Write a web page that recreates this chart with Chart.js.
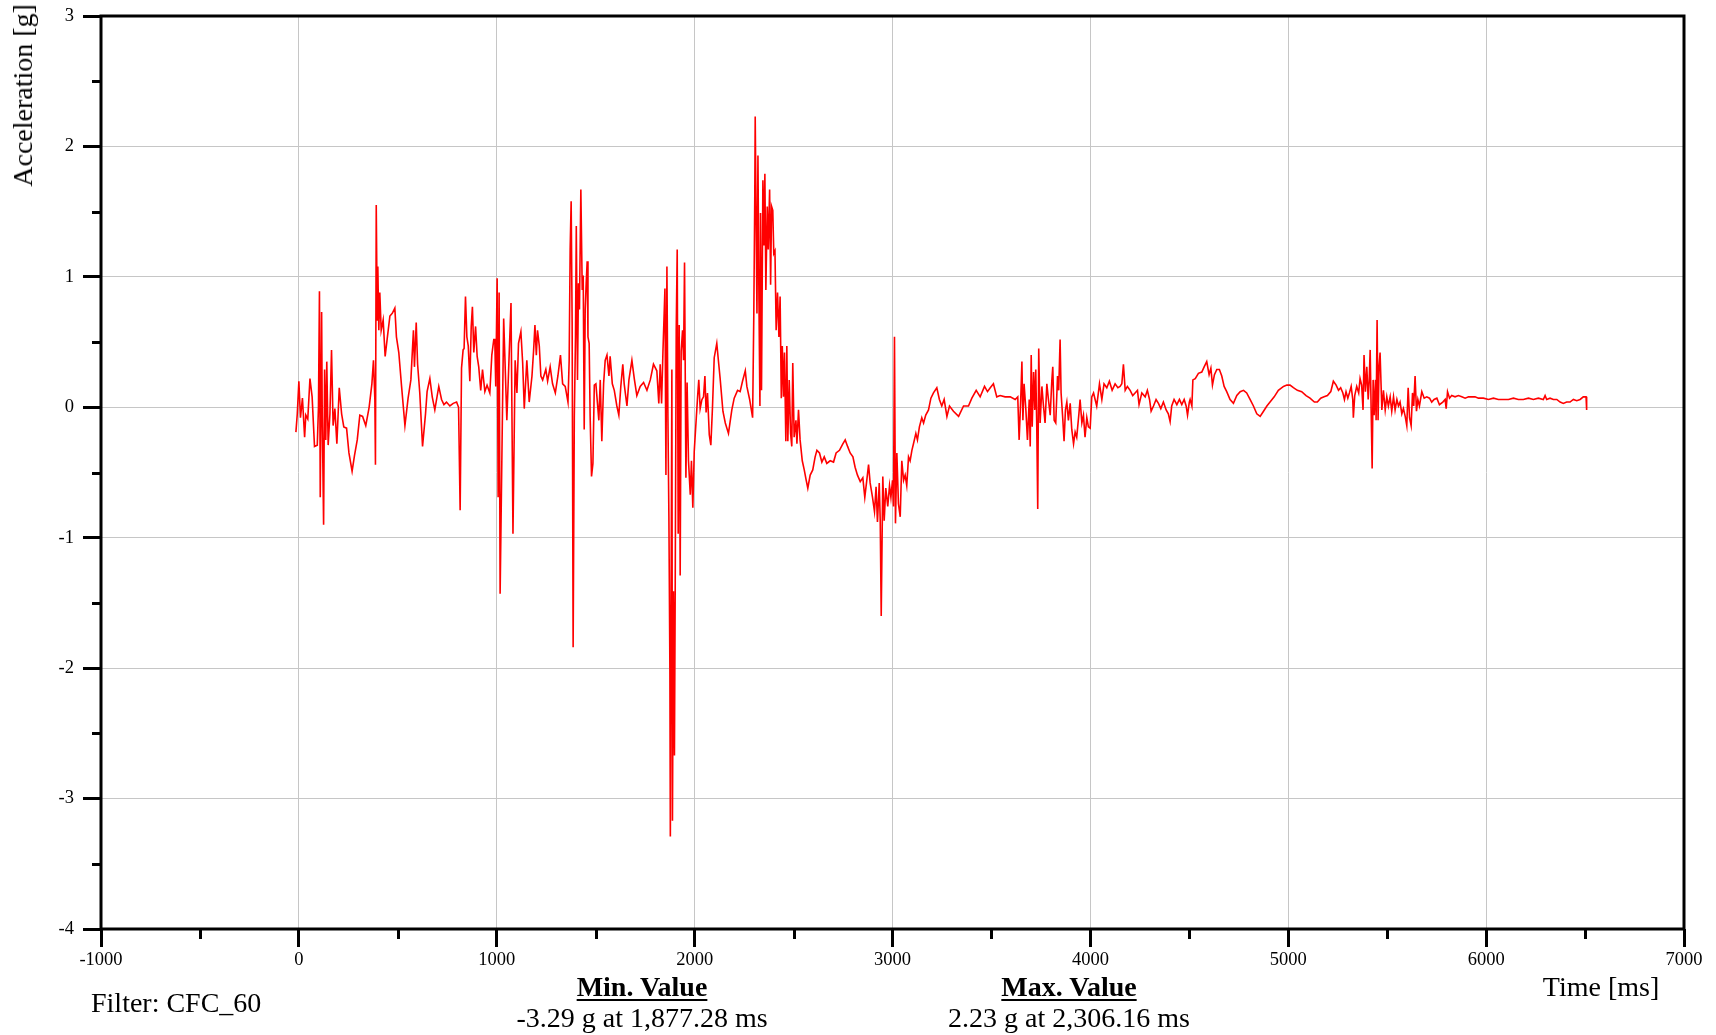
<!DOCTYPE html>
<html>
<head>
<meta charset="utf-8">
<script src="https://cdn.jsdelivr.net/npm/chart.js@4/dist/chart.umd.min.js"></script>
<style>
  html, body { margin: 0; padding: 0; background: #fff; width: 1716px; height: 1035px; overflow: hidden; }
  #wrap { position: relative; width: 1716px; height: 1035px; }
  #c { position: absolute; left: 0; top: 0; }
  .t { position: absolute; font-family: "Liberation Serif", "Times New Roman", serif; font-size: 28px; color: #000; white-space: nowrap; line-height: 1; }
  .ctr { transform: translateX(-50%); }
  .hd { font-weight: bold; text-decoration: underline; text-decoration-thickness: 2px; text-underline-offset: 3px; }
  #ylab { left: 0; top: 0; transform-origin: 0 0; transform: translate(9px, 4px) rotate(-90deg) translateX(-100%); }
</style>
</head>
<body>
<div id="wrap">
  <canvas id="c" width="1716" height="1035" style="width:1716px;height:1035px"></canvas>
  <div class="t" id="ylab"></div>
  <div class="t" id="filter" style="left:91px; top:989px;"></div>
  <div class="t ctr hd" id="minHead" style="left:642px; top:973px;"></div>
  <div class="t ctr" id="minText" style="left:642px; top:1004px;"></div>
  <div class="t ctr hd" id="maxHead" style="left:1069px; top:973px;"></div>
  <div class="t ctr" id="maxText" style="left:1069px; top:1004px;"></div>
  <div class="t ctr" id="xlab" style="left:1601px; top:973px;"></div>
</div>
<script>
// ---- texts ----
const yAxisTitle = 'Acceleration [g]';
const xAxisTitle = 'Time [ms]';
const filterText = 'Filter: CFC_60';
const minTitle = 'Min. Value';
const minText = '-3.29 g at 1,877.28 ms';
const maxTitle = 'Max. Value';
const maxText = '2.23 g at 2,306.16 ms';

// ---- tick labels ----
const xTickValues = [-1000, 0, 1000, 2000, 3000, 4000, 5000, 6000, 7000];
const xTickLabels = ['-1000', '0', '1000', '2000', '3000', '4000', '5000', '6000', '7000'];
const yTickValues = [-4, -3, -2, -1, 0, 1, 2, 3];
const yTickLabels = ['-4', '-3', '-2', '-1', '0', '1', '2', '3'];
const xMinorTicks = [-500, 500, 1500, 2500, 3500, 4500, 5500, 6500];
const yMinorTicks = [-3.5, -2.5, -1.5, -0.5, 0.5, 1.5, 2.5];

// ---- series: time [ms] ----
const timeMs = [
  -15,-8,0,8,18,29,35,45,56,67,79,93,99,104,108,115,118,125,130,136,
  141,148,157,165,173,182,192,204,216,227,241,253,269,281,295,308,322,338,355,369,
  377,384,387,391,396,399,404,409,416,426,436,446,460,472,485,493,505,519,536,552,
  566,579,584,593,600,611,625,640,648,662,674,687,707,721,733,746,763,780,797,807,
  815,822,830,835,842,849,856,864,871,877,884,893,901,909,919,928,940,951,965,975,
  985,990,995,1002,1007,1012,1017,
  1035,1051,1072,1082,1093,1102,1110,1122,1131,1139,1152,1164,1178,1186,1193,1200,1206,1215,1223,1232,
  1248,1257,1270,1282,1296,1309,1322,1333,1346,1360,1366,1371,1376,1381,1386,1392,1398,1402,1408,1413,
  1418,1425,1432,1437,1442,1447,1452,1457,1461,1467,1472,1479,1486,1493,1501,1509,1516,1523,1531,1540,
  1548,1557,1567,1573,1584,1594,1607,1617,1627,1637,1644,1658,1668,1683,1695,1708,
  1725,1742,1759,1776,1792,1809,1819,1826,1833,1840,1850,1855,1860,1865,1870,1875,1877.28,1885,1888,1893,
  1898,1902,1907,1912,1917,1922,1927,1932,1939,1944,1949,1956,1962,1969,1978,1984,1991,1998,2006,2015,
  2021,2028,2037,2045,2052,2058,2065,2074,2082,2090,2099,2112,2122,
  2129,2143,2155,2171,2188,2200,2217,2230,2242,2256,2264,2278,2293,2299,2304,2306.16,2315,2320,2325,2330,
  2333,2338,2345,2350,2355,2360,2367,2372,2379,2384,2389,2395,2400,2406,2412,2419,2426,2432,2438,2443,
  2449,2454,2461,2466,2471,2478,2485,2491,2496,2503,2512,2517,2525,2533,2544,2554,2564,2572,2584,2597,
  2609,2618,2631,2643,2655,2668,2685,2702,2715,2732,2749,2761,2773,2786,2800,2811,2823,2837,2850,2860,
  2870,2879,2887,2899,2909,2917,2924,2933,2938,2943,2951,2958,2966,2976,2985,2992,3000,
  3005,3010,3015,3022,3030,3039,3047,3056,3064,3072,3081,3089,3098,3106,3118,3126,3136,3148,3157,3168,
  3182,3194,3207,3224,3237,3249,3261,3275,3288,
  3308,3334,3359,3384,3401,3423,3443,3465,3480,3494,3510,3527,3544,3569,3595,3620,3633,3640,3648,3654,
  3659,3665,3674,3682,3691,3696,3701,3706,3713,3719,3724,3729,3734,3739,3746,3755,3763,3771,3780,3788,
  3797,3805,3810,3817,3825,3834,3840,3847,3852,3861,3867,3874,3881,3889,3898,3906,3915,3923,3931,3942,
  3948,3957,3965,3973,3982,3990,3999,4007,4016,4024,4032,4046,4058,4069,4083,4096,4110,4125,4139,4150,
  4159,4167,4176,4187,4201,4214,4226,4238,4246,4260,4277,4288,4299,4307,4319,4332,4344,4356,4369,4383,
  4394,4403,4411,4423,4437,4450,4462,4474,4484,4491,4500,
  4504,4513,4518,4530,4546,4563,4575,4588,4600,4609,4617,4627,4639,4652,4664,4676,4689,4706,4723,4740,
  4757,4774,4790,4807,4824,4841,4858,4875,4892,4908,4929,4950,4976,4993,5009,5026,5046,5068,5090,5110,
  5132,5147,5164,5181,5198,5215,5228,5242,5254,5265,5276,5284,5292,5301,5309,5318,5326,5329,5336,5346,
  5356,5363,5371,5378,5383,5390,5397,5404,5409,5414,5419,5424,5429,5434,5441,5444,5449,5454,5459,
  5464,5473,5481,5490,5498,5506,5515,5523,5532,5540,5549,5557,5565,5574,5582,5591,5599,5606,5613,5621,
  5628,5634,5641,5648,5655,5663,5675,5687,5700,5714,5725,5737,5751,5764,5781,5793,5798,5805,5815,5826,
  5843,5860,5877,5894,5911,5927,5944,5961,5986,6012,6037,6062,6088,6113,6138,6163,6188,6214,6239,6264,
  6289,6298,6306,6323,6340,6357,6374,6390,6407,6424,6441,6458,6475,6491,6505,6508
];

// ---- series: acceleration [g] ----
const accelG = [
  -0.19,-0.05,0.2,-0.08,0.07,-0.23,-0.06,-0.09,0.22,0.08,-0.30,-0.29,0.0,0.89,-0.69,0.73,-0.05,-0.90,0.29,-0.25,
  0.35,-0.29,-0.05,0.44,-0.14,-0.01,-0.28,0.15,-0.05,-0.15,-0.16,-0.35,-0.49,-0.37,-0.25,-0.06,-0.07,-0.14,0.0,0.18,
  0.36,0.06,-0.44,1.55,0.67,1.08,0.59,0.88,0.59,0.67,0.39,0.52,0.70,0.72,0.76,0.54,0.42,0.16,-0.14,0.07,
  0.21,0.59,0.31,0.65,0.33,0.11,-0.30,-0.05,0.12,0.22,0.08,-0.02,0.16,0.06,0.02,0.04,0.01,0.03,0.04,0.0,
  -0.79,0.30,0.44,0.45,0.85,0.54,0.47,0.20,0.62,0.77,0.42,0.62,0.39,0.31,0.13,0.29,0.12,0.17,0.11,0.40,
  0.52,0.52,0.16,0.99,-0.69,0.88,-1.43,
  0.68,-0.10,0.80,-0.97,0.36,0.11,0.49,0.58,0.34,-0.01,0.36,0.04,0.24,0.43,0.63,0.40,0.59,0.47,0.24,0.21,
  0.29,0.20,0.31,0.18,0.11,0.24,0.40,0.18,0.16,0.04,0.36,1.21,1.58,0.65,-1.84,-0.07,0.54,1.39,0.21,0.95,
  0.75,1.67,0.90,1.01,-0.17,0.75,0.95,1.12,0.54,0.49,-0.07,-0.53,-0.43,0.17,0.18,0.03,-0.10,0.21,-0.26,0.18,
  0.36,0.40,0.24,0.39,0.18,0.13,0.01,-0.06,0.16,0.33,0.18,0.01,0.21,0.36,0.22,0.09,
  0.16,0.19,0.13,0.21,0.33,0.28,0.03,0.33,0.03,0.43,0.91,-0.52,1.08,-0.07,-0.84,-2.0,-3.29,0.29,-3.17,-1.41,
  -2.67,-1.34,0.59,1.21,-0.97,0.63,-1.29,0.43,0.59,0.36,1.11,-0.54,0.19,-0.41,-0.67,-0.41,-0.77,-0.34,-0.14,0.08,
  0.21,-0.01,0.06,0.08,0.24,-0.04,0.11,-0.21,-0.29,-0.01,0.38,0.49,0.33,
  0.22,-0.03,-0.12,-0.20,-0.02,0.07,0.13,0.12,0.20,0.28,0.16,0.06,-0.08,0.70,1.62,2.23,0.72,1.93,0.83,0.01,
  1.49,0.13,1.74,1.24,1.79,0.90,1.54,1.21,1.67,0.94,1.54,1.51,1.18,1.20,0.59,0.88,0.54,0.85,0.07,0.47,
  0.08,0.42,-0.26,0.47,-0.26,0.21,-0.20,-0.30,0.34,-0.23,-0.10,-0.28,-0.02,-0.25,-0.41,-0.48,-0.56,-0.62,-0.52,-0.48,
  -0.38,-0.33,-0.35,-0.42,-0.38,-0.43,-0.41,-0.42,-0.35,-0.33,-0.28,-0.25,-0.30,-0.35,-0.38,-0.46,-0.52,-0.57,-0.54,-0.69,
  -0.56,-0.44,-0.58,-0.69,-0.80,-0.61,-0.88,-0.58,-0.87,-1.60,-0.53,-0.87,-0.62,-0.76,-0.60,-0.69,-0.56,
  -0.76,0.54,-0.89,-0.35,-0.74,-0.84,-0.41,-0.56,-0.52,-0.60,-0.38,-0.41,-0.33,-0.28,-0.20,-0.25,-0.15,-0.08,-0.12,-0.06,
  -0.02,0.07,0.11,0.15,0.06,0.01,0.06,-0.07,0.01,
  -0.03,-0.07,0.01,0.01,0.07,0.13,0.08,0.16,0.12,0.15,0.18,0.08,0.09,0.08,0.08,0.06,0.08,-0.25,0.06,0.35,
  -0.10,0.18,-0.02,-0.25,0.06,-0.30,0.40,-0.15,0.27,-0.02,0.29,-0.14,-0.78,0.45,-0.12,0.16,0.01,-0.12,0.18,0.06,
  -0.06,0.20,0.31,-0.10,-0.12,0.24,0.13,0.52,0.11,-0.10,-0.26,-0.02,0.04,-0.10,0.03,-0.17,-0.28,-0.19,-0.23,-0.05,
  0.06,-0.12,-0.06,-0.23,-0.08,-0.15,-0.16,0.08,0.11,0.06,0.01,0.18,0.06,0.18,0.15,0.20,0.13,0.18,0.15,0.16,
  0.18,0.33,0.13,0.16,0.13,0.09,0.11,0.13,0.02,0.11,0.08,0.13,0.06,-0.03,0.01,0.06,0.03,-0.01,0.04,-0.02,
  -0.05,-0.11,0.01,0.06,0.02,0.06,0.02,0.06,0.01,-0.06,0.04,
  0.06,0.01,0.21,0.22,0.26,0.27,0.31,0.35,0.25,0.30,0.17,0.25,0.29,0.29,0.24,0.16,0.12,0.06,0.03,0.09,
  0.12,0.13,0.11,0.06,0.01,-0.05,-0.07,-0.03,0.01,0.04,0.08,0.13,0.16,0.17,0.17,0.15,0.13,0.12,0.09,0.07,
  0.04,0.04,0.07,0.08,0.09,0.12,0.20,0.17,0.13,0.15,0.11,0.06,0.12,0.07,0.11,0.16,0.06,-0.08,0.09,0.16,
  0.11,0.22,0.17,-0.02,0.40,0.12,0.31,0.06,0.20,0.44,-0.02,-0.47,0.21,-0.06,0.21,-0.10,0.67,-0.10,0.31,
  0.42,-0.02,0.13,-0.02,0.08,0.01,0.08,-0.03,0.08,-0.02,0.06,0.01,0.04,-0.05,-0.01,-0.07,-0.14,0.15,-0.08,-0.14,
  0.11,0.01,0.24,-0.03,0.06,0.01,0.12,0.07,0.08,0.07,0.04,0.06,0.07,0.02,0.04,0.06,-0.01,0.12,0.07,0.09,
  0.08,0.09,0.08,0.07,0.08,0.08,0.08,0.07,0.07,0.06,0.07,0.06,0.06,0.06,0.07,0.06,0.06,0.07,0.06,0.07,
  0.06,0.09,0.06,0.07,0.06,0.06,0.04,0.03,0.04,0.04,0.06,0.05,0.06,0.08,0.08,-0.02
];

if (timeMs.length !== accelG.length) {
  throw new Error('length mismatch ' + timeMs.length + ' vs ' + accelG.length);
}

// ---- texts into DOM ----
document.getElementById('ylab').textContent = yAxisTitle;
document.getElementById('xlab').textContent = xAxisTitle;
document.getElementById('filter').textContent = filterText;
document.getElementById('minHead').textContent = minTitle;
document.getElementById('minText').textContent = minText;
document.getElementById('maxHead').textContent = maxTitle;
document.getElementById('maxText').textContent = maxText;

const points = timeMs.map((t, i) => ({ x: t, y: accelG[i] }));

const FONT = '"Liberation Serif", "Times New Roman", serif';
const GRID = '#c6c6c6';

const framePlugin = {
  id: 'frame',
  afterDraw(chart) {
    const { ctx, chartArea: a, scales } = chart;
    ctx.save();
    ctx.strokeStyle = '#000';
    ctx.lineWidth = 3;
    ctx.beginPath();
    xMinorTicks.forEach(v => {
      const px = Math.round(scales.x.getPixelForValue(v)) + 0.5;
      ctx.moveTo(px, a.bottom);
      ctx.lineTo(px, a.bottom + 10);
    });
    yMinorTicks.forEach(v => {
      const py = Math.round(scales.y.getPixelForValue(v)) + 0.5;
      ctx.moveTo(a.left - 9, py);
      ctx.lineTo(a.left, py);
    });
    ctx.stroke();
    ctx.strokeRect(a.left, a.top, a.right - a.left, a.bottom - a.top);
    ctx.restore();
  }
};

new Chart(document.getElementById('c'), {
  type: 'scatter',
  data: {
    datasets: [{
      data: points,
      showLine: true,
      borderColor: '#ff0000',
      backgroundColor: '#ff0000',
      borderWidth: 1.6,
      pointRadius: 0,
      tension: 0
    }]
  },
  options: {
    responsive: false,
    animation: false,
    layout: { padding: { left: 0, right: 32, top: 16, bottom: 0 } },
    plugins: { legend: { display: false }, tooltip: { enabled: false }, title: { display: false } },
    scales: {
      x: {
        type: 'linear',
        min: xTickValues[0],
        max: xTickValues[xTickValues.length - 1],
        afterBuildTicks: s => { s.ticks = xTickValues.map(v => ({ value: v })); },
        afterFit: s => { s.height = 106; s.paddingLeft = 0; s.paddingRight = 0; },
        ticks: {
          callback: v => { const i = xTickValues.indexOf(v); return i >= 0 ? xTickLabels[i] : ''; },
          font: { family: FONT, size: 18.5 },
          color: '#000',
          padding: 2,
          maxRotation: 0,
          autoSkip: false
        },
        grid: {
          color: c => (c.tick && (c.tick.value === xTickValues[0] || c.tick.value === xTickValues[xTickValues.length - 1])) ? 'rgba(0,0,0,0)' : GRID,
          lineWidth: 1,
          drawTicks: true,
          tickLength: 18,
          tickColor: '#000',
          tickWidth: 3
        },
        border: { display: false }
      },
      y: {
        type: 'linear',
        min: yTickValues[0],
        max: yTickValues[yTickValues.length - 1],
        afterBuildTicks: s => { s.ticks = yTickValues.map(v => ({ value: v })); },
        afterFit: s => { s.width = 101; s.paddingTop = 0; s.paddingBottom = 0; },
        ticks: {
          callback: v => { const i = yTickValues.indexOf(v); return i >= 0 ? yTickLabels[i] : ''; },
          font: { family: FONT, size: 18.5 },
          color: '#000',
          padding: 9,
          autoSkip: false
        },
        grid: {
          color: c => (c.tick && (c.tick.value === yTickValues[0] || c.tick.value === yTickValues[yTickValues.length - 1])) ? 'rgba(0,0,0,0)' : GRID,
          lineWidth: 1,
          drawTicks: true,
          tickLength: 18,
          tickColor: '#000',
          tickWidth: 3
        },
        border: { display: false }
      }
    }
  },
  plugins: [framePlugin]
});
</script>
</body>
</html>
